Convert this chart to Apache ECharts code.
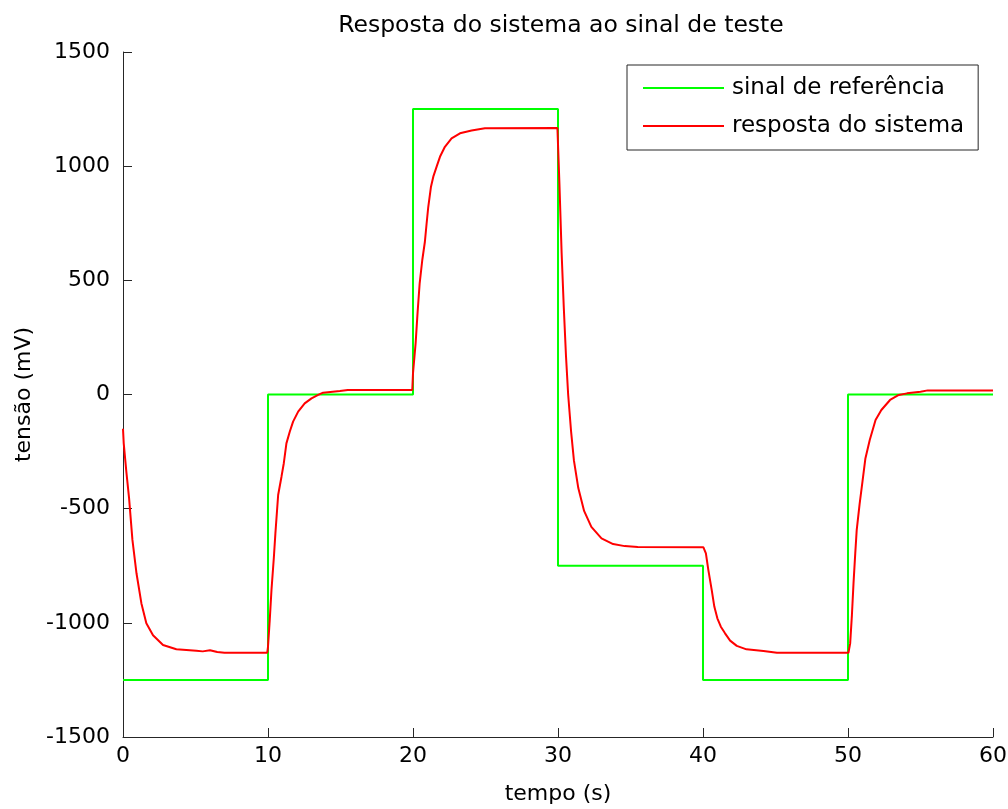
<!DOCTYPE html>
<html>
<head>
<meta charset="utf-8">
<script src="https://cdn.jsdelivr.net/npm/echarts@6/dist/echarts.min.js"></script>
<style>
  html, body { margin: 0; padding: 0; background: #fff; }
  #chart { width: 1008px; height: 809px; }
</style>
</head>
<body>
<div id="chart"></div>
<script>
// sinal de referência (degraus)
const refTime  = [0, 10, 10, 20, 20, 30, 30, 40, 40, 50, 50, 60];
const refValue = [-1250, -1250, 0, 0, 1250, 1250, -750, -750, -1250, -1250, 0, 0];

// resposta do sistema
const respTime = [
  0, 0.05, 0.23, 0.42, 0.65, 0.93, 1.27, 1.61, 2.07, 2.76, 3.68, 5.06, 5.5, 6.0, 6.5, 7.0, 9.95,
  10.0, 10.12, 10.24, 10.4, 10.51, 10.7, 10.93, 11.09, 11.27, 11.5, 11.73, 12.08, 12.53, 13.0, 13.46, 13.8, 14.96, 15.5, 19.95,
  20.0, 20.18, 20.32, 20.46, 20.64, 20.82, 20.94, 21.05, 21.24, 21.4, 21.63, 21.86, 22.2, 22.66, 23.24, 24.04, 24.96, 29.96,
  30.1, 30.25, 30.4, 30.55, 30.7, 30.9, 31.1, 31.4, 31.8, 32.3, 33.0, 33.8, 34.6, 35.5, 40.03,
  40.2, 40.37, 40.6, 40.78, 40.99, 41.23, 41.52, 41.87, 42.33, 43.0, 44.17, 45.1, 50.03,
  50.15, 50.27, 50.38, 50.5, 50.6, 50.8, 51.0, 51.2, 51.5, 51.9, 52.3, 52.9, 53.5, 54.07, 55.0, 55.5, 60
];
const respValue = [
  -150, -214, -338, -455, -637, -783, -915, -1002, -1054, -1097, -1116, -1122, -1125, -1120, -1128, -1131, -1131,
  -1105, -988, -856, -717, -608, -440, -360, -301, -214, -163, -119, -75, -39, -17, -2, 8, 15, 20, 20,
  93, 224, 363, 487, 589, 669, 750, 820, 910, 954, 998, 1041, 1085, 1122, 1144, 1156, 1166, 1167,
  920, 620, 380, 170, 0, -160, -290, -410, -510, -580, -630, -655, -664, -668, -669,
  -696, -769, -856, -929, -980, -1017, -1046, -1078, -1101, -1116, -1123, -1131, -1131,
  -1090, -966, -827, -696, -594, -480, -380, -280, -199, -112, -68, -24, -2, 5, 12, 18, 18
];

const xTicks = { min: 0, max: 60, interval: 10 };
const yTicks = { min: -1500, max: 1500, interval: 500 };

const zip = (xs, ys) => xs.map((x, i) => [x, ys[i]]);

const font = 'DejaVu Sans';
const ink = '#262626';

const chart = echarts.init(document.getElementById('chart'));
chart.setOption({
  backgroundColor: '#fff',
  animation: false,
  title: {
    text: 'Resposta do sistema ao sinal de teste',
    left: 556,
    textAlign: 'center',
    top: 9,
    textStyle: { fontFamily: font, fontSize: 23.5, fontWeight: 'normal', color: '#000' }
  },
  grid: { left: 123, right: 15, top: 52, bottom: 72, outerBoundsMode: 'none' },
  legend: {
    orient: 'vertical',
    left: 627,
    top: 65,
    padding: [11, 14, 12, 16],
    icon: 'rect',
    itemWidth: 81,
    itemHeight: 2,
    itemGap: 14,
    borderColor: ink,
    borderWidth: 1,
    backgroundColor: '#fff',
    textStyle: { fontFamily: font, fontSize: 23, color: '#000', lineHeight: 24, padding: [0, 0, 0, 3] },
    data: ['sinal de referência', 'resposta do sistema']
  },
  xAxis: {
    type: 'value',
    min: xTicks.min, max: xTicks.max, interval: xTicks.interval,
    name: 'tempo (s)',
    nameLocation: 'middle',
    nameGap: 46,
    nameTextStyle: { fontFamily: font, fontSize: 22, color: '#000' },
    axisLine: { onZero: false, lineStyle: { color: ink, width: 1 } },
    axisTick: { inside: true, length: 9, lineStyle: { color: ink } },
    axisLabel: { fontFamily: font, fontSize: 22, color: '#000', margin: 8 },
    splitLine: { show: false }
  },
  yAxis: {
    type: 'value',
    min: yTicks.min, max: yTicks.max, interval: yTicks.interval,
    name: 'tensão (mV)',
    nameLocation: 'middle',
    nameGap: 88,
    nameTextStyle: { fontFamily: font, fontSize: 22, color: '#000' },
    axisLine: { show: true, onZero: false, lineStyle: { color: ink, width: 1 } },
    axisTick: { show: true, inside: true, length: 9, lineStyle: { color: ink } },
    axisLabel: { fontFamily: font, fontSize: 22, color: '#000', margin: 13, formatter: v => String(v) },
    splitLine: { show: false }
  },
  series: [
    {
      name: 'sinal de referência',
      type: 'line',
      data: zip(refTime, refValue),
      symbol: 'none',
      lineStyle: { color: '#00ff00', width: 2 },
      itemStyle: { color: '#00ff00' }
    },
    {
      name: 'resposta do sistema',
      type: 'line',
      data: zip(respTime, respValue),
      symbol: 'none',
      lineStyle: { color: '#ff0000', width: 2 },
      itemStyle: { color: '#ff0000' }
    }
  ]
});
</script>
</body>
</html>
